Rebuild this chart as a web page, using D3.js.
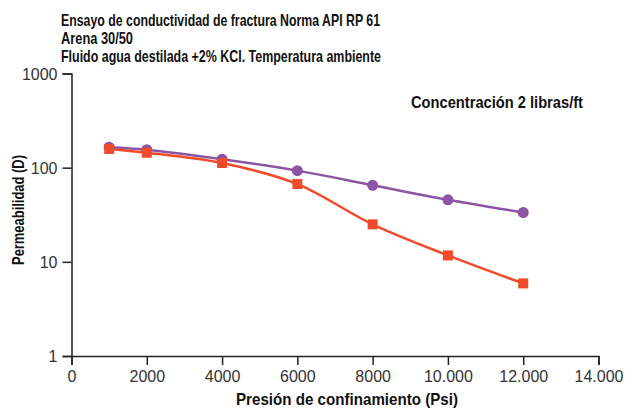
<!DOCTYPE html>
<html>
<head>
<meta charset="utf-8">
<script src="https://cdn.jsdelivr.net/npm/d3@7"></script>
<style>
  body { margin: 0; background: #fff; }
  svg { display: block; }
  .tick text { font-family: "Liberation Sans", Arial, sans-serif; font-size: 16px; fill: #333; }
  .title { font-family: "Liberation Sans", Arial, sans-serif; font-weight: bold; font-size: 16.5px; fill: #111; }
</style>
</head>
<body>
<div id="container"></div>
<script>
// presion de confinamiento (psi)
let pressures = [1000, 2000, 4000, 6000, 8000, 10000, 12000];
// permeabilidad (D)
let purpleValues = [165, 155, 123, 93, 65, 45.6, 33.4];
let redValues = [158, 144, 112, 67, 25, 11.7, 5.9];

let xTicks = [0, 2000, 4000, 6000, 8000, 10000, 12000, 14000];
let xTickLabels = ["0", "2000", "4000", "6000", "8000", "10.000", "12.000", "14.000"];
let yTicks = [1, 10, 100, 1000];

let titleLines = [
  "Ensayo de conductividad de fractura Norma API RP 61",
  "Arena 30/50",
  "Fluido agua destilada +2% KCI. Temperatura ambiente"
];
let titleWidths = [319, 72, 320];

let w = 626;
let h = 408;

let viz = d3.select("#container")
  .append("svg")
  .attr("width", w)
  .attr("height", h);

let xScale = d3.scaleLinear().domain([0, 14000]).range([71.5, 598.5]);
let yScale = d3.scaleLog().domain([1, 1000]).range([356, 73.5]);

let xAxis = d3.axisBottom(xScale)
  .tickValues(xTicks)
  .tickFormat(function (d, i) { return xTickLabels[i]; })
  .tickSizeOuter(0)
  .tickSize(9)
  .tickPadding(6);
let xAxisGroup = viz.append("g")
  .attr("class", "xaxisgroup")
  .attr("transform", "translate(0," + 356 + ")")
  .call(xAxis);

let yAxis = d3.axisLeft(yScale)
  .tickValues(yTicks)
  .tickFormat(d3.format("d"))
  .tickSizeOuter(0)
  .tickSize(9)
  .tickPadding(5);
let yAxisGroup = viz.append("g")
  .attr("class", "yaxisgroup")
  .attr("transform", "translate(71.5,0)")
  .call(yAxis);

viz.selectAll(".domain, .tick line").attr("stroke", "#222").attr("stroke-width", 1.5);
yAxisGroup.selectAll(".tick text").attr("dy", "0.36em");

// titles (the original uses a condensed face, so squeeze to its width)
viz.selectAll(".titleline").data(titleLines).enter()
  .append("text")
  .attr("class", "title")
  .attr("x", 61)
  .attr("y", function (d, i) { return 26 + i * 18; })
  .attr("textLength", function (d, i) { return titleWidths[i]; })
  .attr("lengthAdjust", "spacingAndGlyphs")
  .text(function (d) { return d; });

viz.append("text")
  .attr("class", "title")
  .attr("x", 411)
  .attr("y", 108)
  .attr("textLength", 172)
  .attr("lengthAdjust", "spacingAndGlyphs")
  .text("Concentración 2 libras/ft");

viz.append("text")
  .attr("class", "title")
  .attr("x", 236)
  .attr("y", 405)
  .attr("textLength", 222)
  .attr("lengthAdjust", "spacingAndGlyphs")
  .text("Presión de confinamiento (Psi)");

viz.append("text")
  .attr("class", "title")
  .attr("transform", "translate(24,265) rotate(-90)")
  .attr("textLength", 110)
  .attr("lengthAdjust", "spacingAndGlyphs")
  .text("Permeabilidad (D)");

let purpleData = pressures.map(function (p, i) { return { x: p, y: purpleValues[i] }; });
let redData = pressures.map(function (p, i) { return { x: p, y: redValues[i] }; });

let line = d3.line()
  .x(function (d) { return xScale(d.x); })
  .y(function (d) { return yScale(d.y); })
  .curve(d3.curveCatmullRom);

let purple = "#8b55a3";
let red = "#f04b2a";

viz.append("path")
  .datum(purpleData)
  .attr("d", line)
  .attr("fill", "none")
  .attr("stroke", purple)
  .attr("stroke-width", 2.5);

viz.append("path")
  .datum(redData)
  .attr("d", line)
  .attr("fill", "none")
  .attr("stroke", red)
  .attr("stroke-width", 2.5);

viz.selectAll(".circ").data(purpleData).enter()
  .append("circle")
  .attr("class", "circ")
  .attr("cx", function (d) { return xScale(d.x); })
  .attr("cy", function (d) { return yScale(d.y); })
  .attr("r", 5.5)
  .attr("fill", purple);

viz.selectAll(".sq").data(redData).enter()
  .append("rect")
  .attr("class", "sq")
  .attr("x", function (d) { return xScale(d.x) - 5; })
  .attr("y", function (d) { return yScale(d.y) - 5; })
  .attr("width", 10)
  .attr("height", 10)
  .attr("fill", red);
</script>
</body>
</html>
